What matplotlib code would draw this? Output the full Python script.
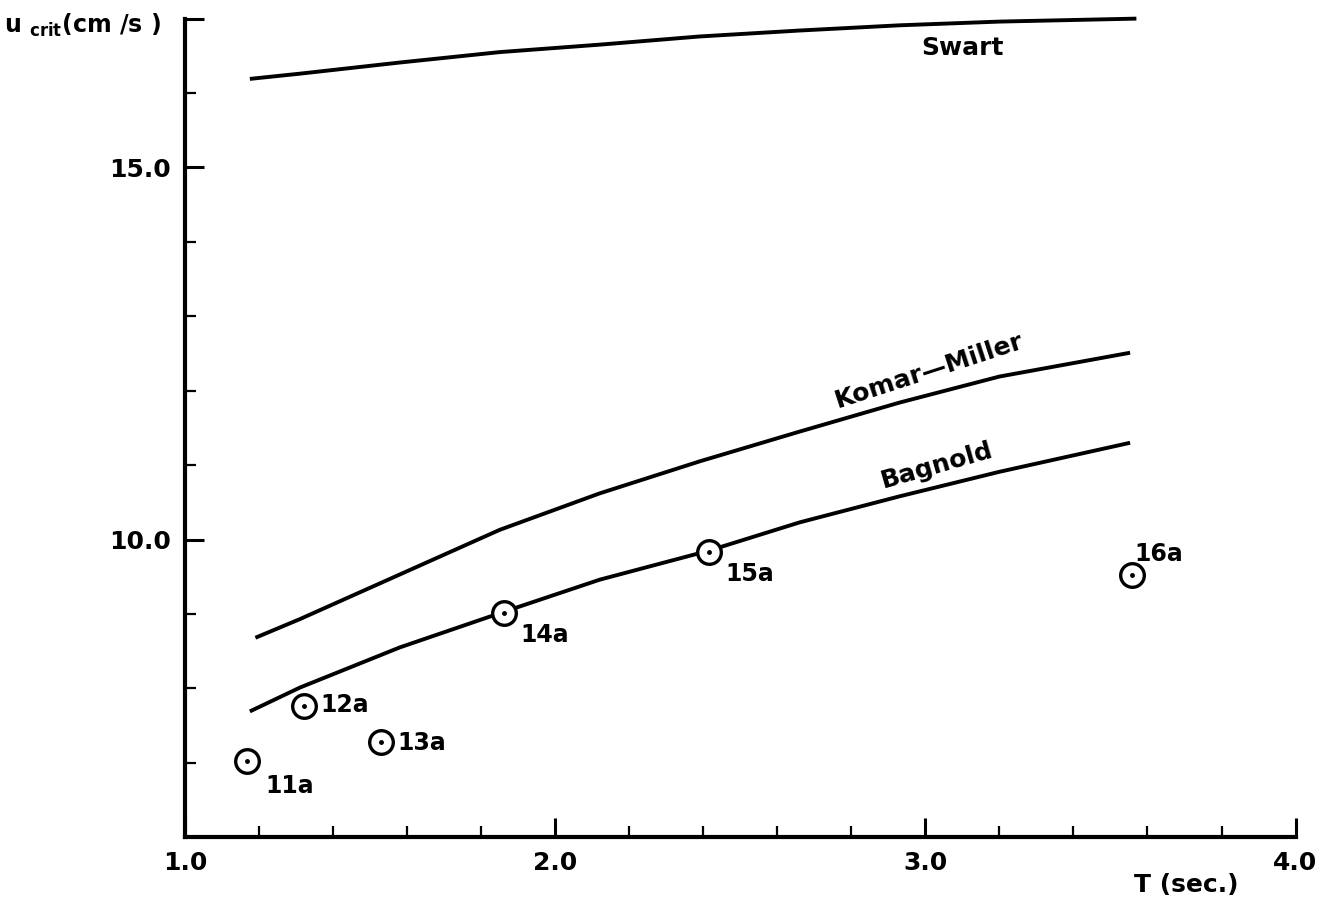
import numpy as np
import matplotlib.pyplot as plt
from matplotlib.ticker import MultipleLocator

# periodo de la ola T (s) y velocidad critica (cm/s) de cada curva
T_swart = [1.175, 1.31, 1.58, 1.85, 2.12, 2.39, 2.66, 2.93, 3.2, 3.57]
u_swart = [16.19, 16.26, 16.41, 16.55, 16.65, 16.76, 16.84, 16.91, 16.96, 17.0]

T_komar = [1.19, 1.31, 1.58, 1.85, 2.12, 2.39, 2.66, 2.93, 3.2, 3.553]
u_komar = [8.68, 8.93, 9.53, 10.13, 10.62, 11.05, 11.45, 11.84, 12.19, 12.51]

T_bagnold = [1.175, 1.31, 1.58, 1.862, 2.12, 2.415, 2.66, 2.93, 3.2, 3.553]
u_bagnold = [7.69, 8.01, 8.55, 9.03, 9.46, 9.85, 10.23, 10.58, 10.91, 11.30]

# ensayos medidos
T_ens = [1.167, 1.321, 1.528, 1.862, 2.415, 3.558]
u_ens = [7.03, 7.76, 7.28, 9.01, 9.83, 9.52]
etiquetas = ['11a', '12a', '13a', '14a', '15a', '16a']
desfase = [(13, -18), (12, 1), (12, -1), (12, -16), (12, -16), (2, 15)]

plt.rcParams['font.family'] = ['DejaVu Sans']
plt.rcParams['font.weight'] = 'bold'
fig = plt.figure(figsize=(13.22, 9.08), dpi=100)
ax = fig.add_axes([0.140, 0.078, 0.840, 0.9015])

for T, u in [(T_swart, u_swart), (T_komar, u_komar), (T_bagnold, u_bagnold)]:
    ax.plot(T, u, color='black', lw=2.8, clip_on=False,
            solid_joinstyle='round', solid_capstyle='butt')

ax.plot(T_ens, u_ens, 'o', ms=17, mfc='white', mec='black', mew=2.4,
        clip_on=False)
ax.plot(T_ens, u_ens, '.', ms=5, color='black')
for t, u, txt, d in zip(T_ens, u_ens, etiquetas, desfase):
    ax.annotate(txt, (t, u), xytext=d, textcoords='offset points',
                fontsize=17, ha='left', va='center')

ax.text(3.10, 16.6, 'Swart', fontsize=18, ha='center', va='center')
ax.text(3.01, 12.26, 'Komar\u2014Miller', fontsize=18, ha='center',
        va='center', rotation=18)
ax.text(3.03, 11.0, 'Bagnold', fontsize=18, ha='center', va='center',
        rotation=16)

ax.set_xlim(1.0, 4.0)
ax.set_ylim(6.0, 17.0)
ax.spines['top'].set_visible(False)
ax.spines['right'].set_visible(False)
ax.spines['left'].set_linewidth(3)
ax.spines['bottom'].set_linewidth(3)

ax.set_xticks([1.0, 2.0, 3.0, 4.0])
ax.set_xticklabels(['1.0', '2.0', '3.0', '4.0'])
ax.xaxis.set_minor_locator(MultipleLocator(0.2))
ax.set_yticks([10.0, 15.0, 17.0])
ax.set_yticklabels(['10.0', '15.0', ''])
ax.yaxis.set_minor_locator(MultipleLocator(1.0))
ax.tick_params(which='major', direction='in', length=14, width=2.2,
               labelsize=18, pad=10)
ax.tick_params(which='minor', direction='in', length=8, width=1.6)

fig.text(0.003, 0.972, r'u $_{\bf crit}$(cm /s )', fontsize=17,
         ha='left', va='center')
fig.text(0.897, 0.025, 'T (sec.)', fontsize=18, ha='center', va='center')

fig.savefig('out.png', dpi=100)
